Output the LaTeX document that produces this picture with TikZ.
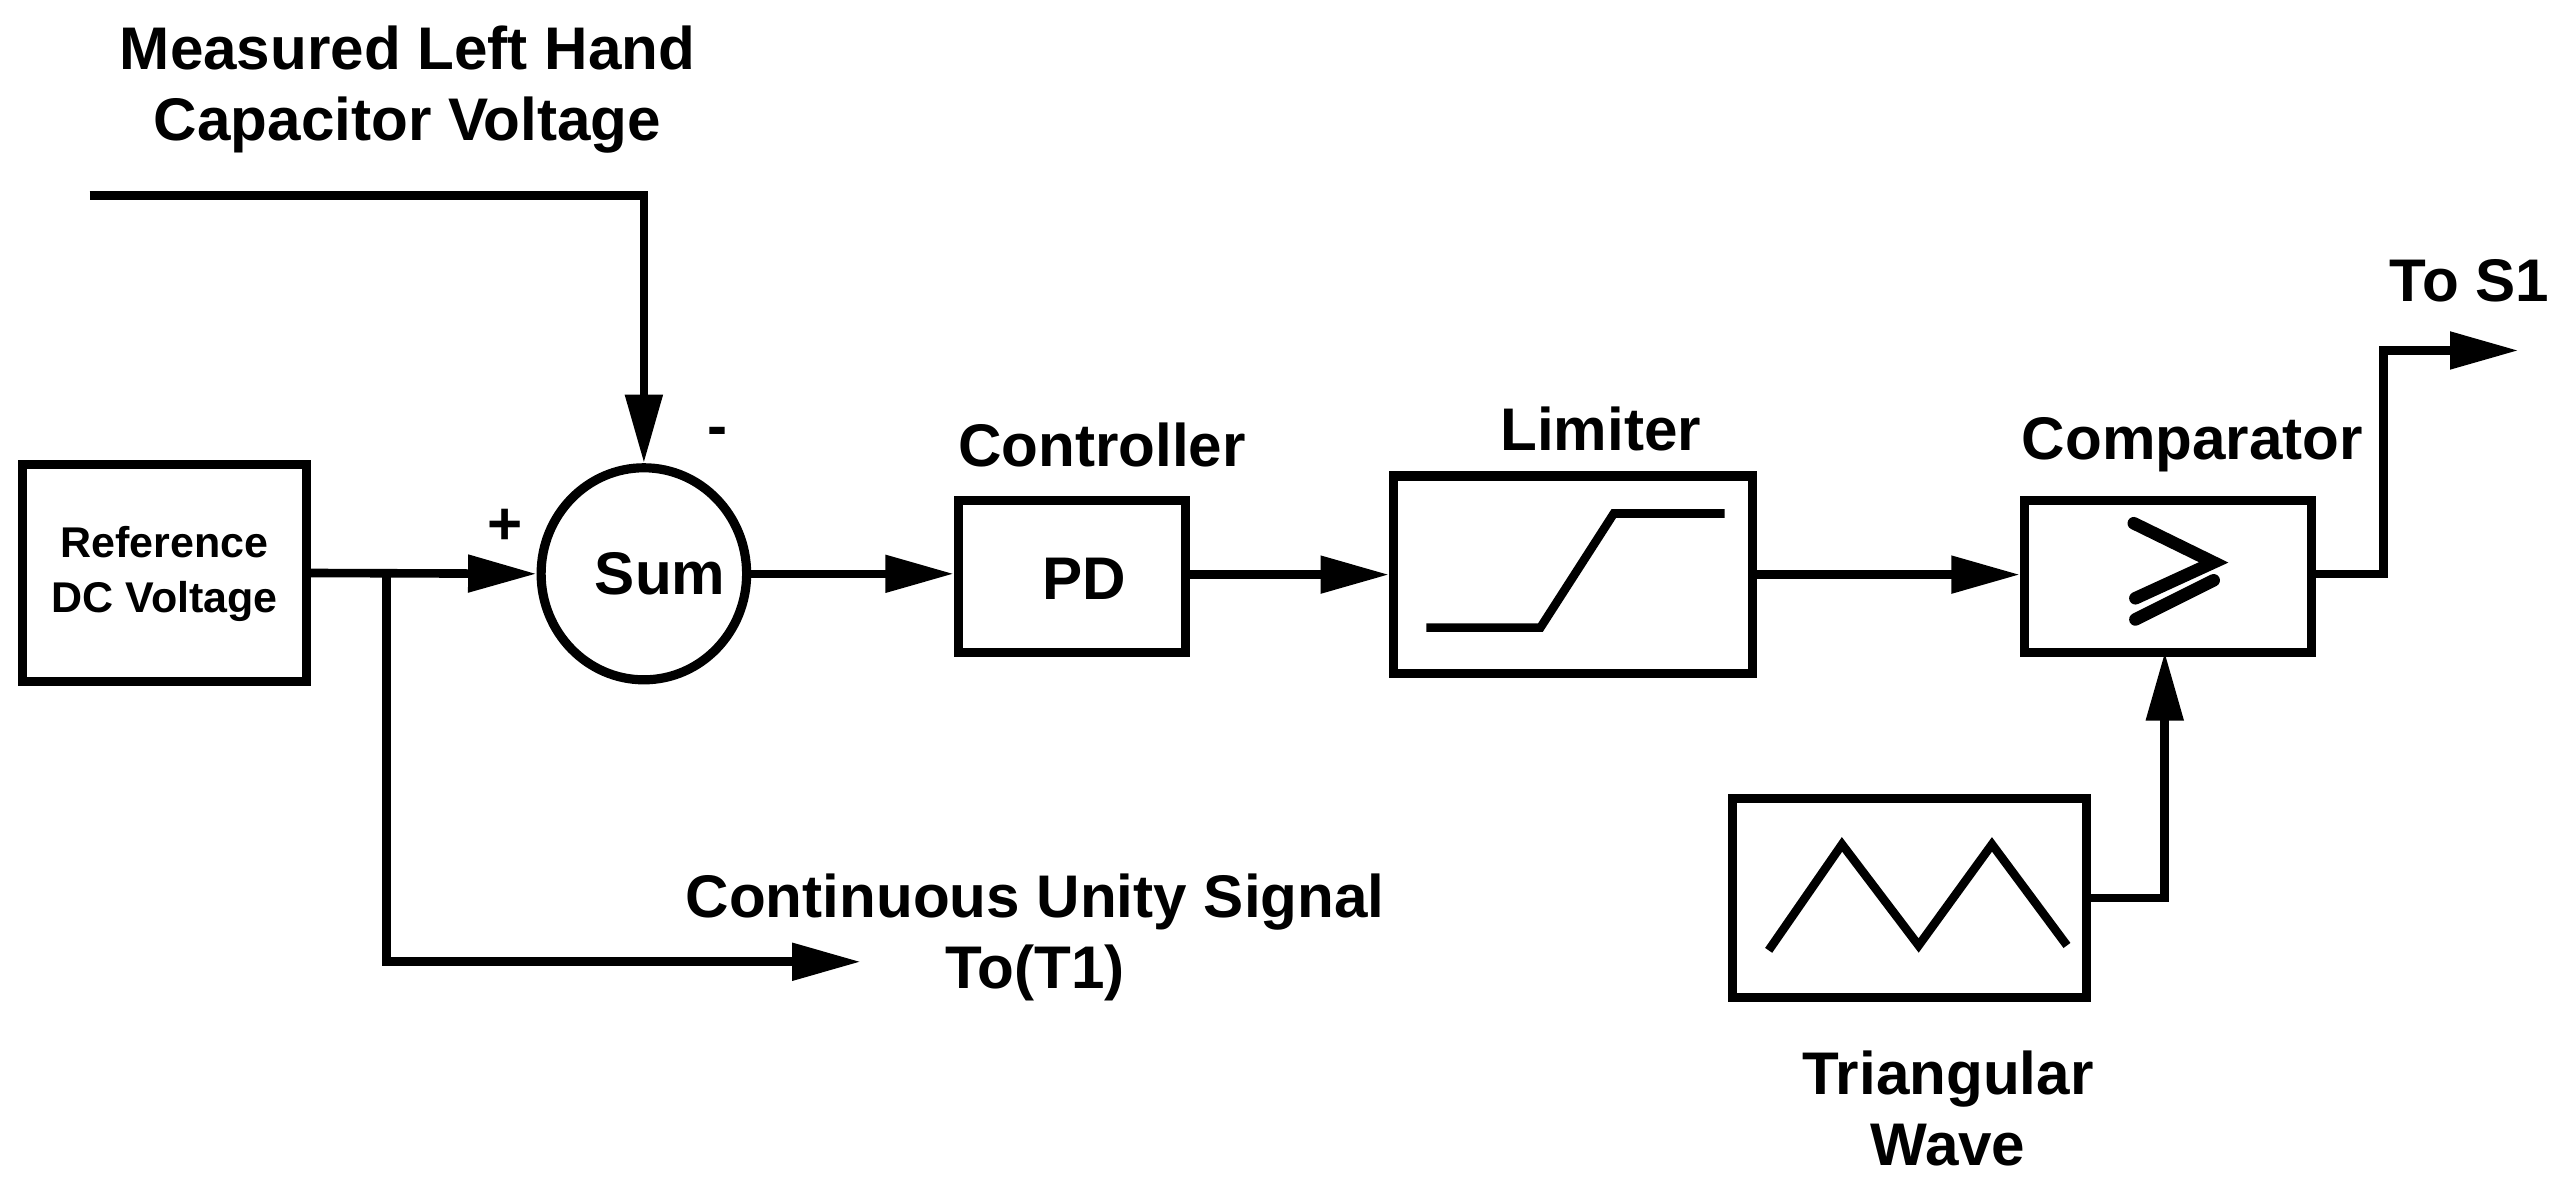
\documentclass[tikz,border=0pt]{standalone}
\usepackage{fontspec}
\setmainfont{Liberation Sans}
\usetikzlibrary{arrows.meta,shapes.geometric}
\begin{document}
\begin{tikzpicture}[x=0.01cm,y=-0.01cm,
  line width=1.5pt,
  blk/.style={draw,line width=1.6pt,inner sep=0pt},
  arr/.style={-{Triangle[length=0.42cm,width=0.22cm]}},
  lab/.style={font=\bfseries\fontsize{10.5pt}{12.5pt}\selectfont,align=center}]
\useasboundingbox (0,0) rectangle (1568,730);
\node[blk,minimum width=1.74cm,minimum height=1.33cm] (ref) at (101,351.5) {};
\node[font=\bfseries\fontsize{7.5pt}{9.5pt}\selectfont,align=center] at (101,352) {Reference\\DC Voltage};
\node[blk,ellipse,minimum width=1.26cm,minimum height=1.3cm] (sum) at (395,352) {};
\node[lab] at (405,352) {Sum};
\node[lab] at (310,323) {+};
\node[lab] at (440,268) {-};
\node[blk,minimum width=1.39cm,minimum height=0.93cm] (pd) at (657.5,353.5) {};
\node[lab] at (665,355) {PD};
\node[lab] at (676,273) {Controller};
\node[blk,minimum width=2.2cm,minimum height=1.21cm] (lim) at (965,352.5) {};
\node[lab] at (982,263) {Limiter};
\node[blk,minimum width=1.76cm,minimum height=0.93cm] (cmp) at (1330,353.5) {};
\node[lab] at (1345,273) {Comparator};
\node[blk,minimum width=2.17cm,minimum height=1.22cm] (tri) at (1171.5,551) {};
\node[lab] at (1195,680) {Triangular\\Wave};
\node[lab] at (250,55) {Measured Left Hand\\Capacitor Voltage};
\node[lab] at (635,575) {Continuous Unity Signal\\To(T1)};
\node[lab] at (1515,172) {To S1};
\coordinate (m0) at (55,120);
\coordinate (br) at (237,352);
\coordinate (ct) at (528,590);
\coordinate (s1) at (1545,215);
\coordinate (co) at (1418,352);
\coordinate (cb) at (1328,400);
% limiter curve
\draw (875,385) -- (945,385) -- (990,315) -- (1058,315);
% triangle wave
\draw (1085,583) -- (1130,518) -- (1177,580) -- (1222,518) -- (1268,580);
% comparator symbol
\draw[line width=2.2pt,line cap=round,line join=miter] (1309,321) -- (1358,345) -- (1310,367);
\draw[line width=2.2pt,line cap=round] (1310,380) -- (1358,356);
% connectors
\draw[arr] (m0) -| (sum.north);
\draw[arr] (ref.east) -- (sum.west);
\draw[arr] (br) |- (ct);
\draw[arr] (sum.east) -- (pd.west |- sum.east);
\draw[arr] (pd.east |- lim.west) -- (lim.west);
\draw[arr] (lim.east) -- (cmp.west |- lim.east);
\draw[arr] (co) -- (1462,352) |- (s1);
\draw[arr] (tri.east) -| (cb);
\end{tikzpicture}
\end{document}
